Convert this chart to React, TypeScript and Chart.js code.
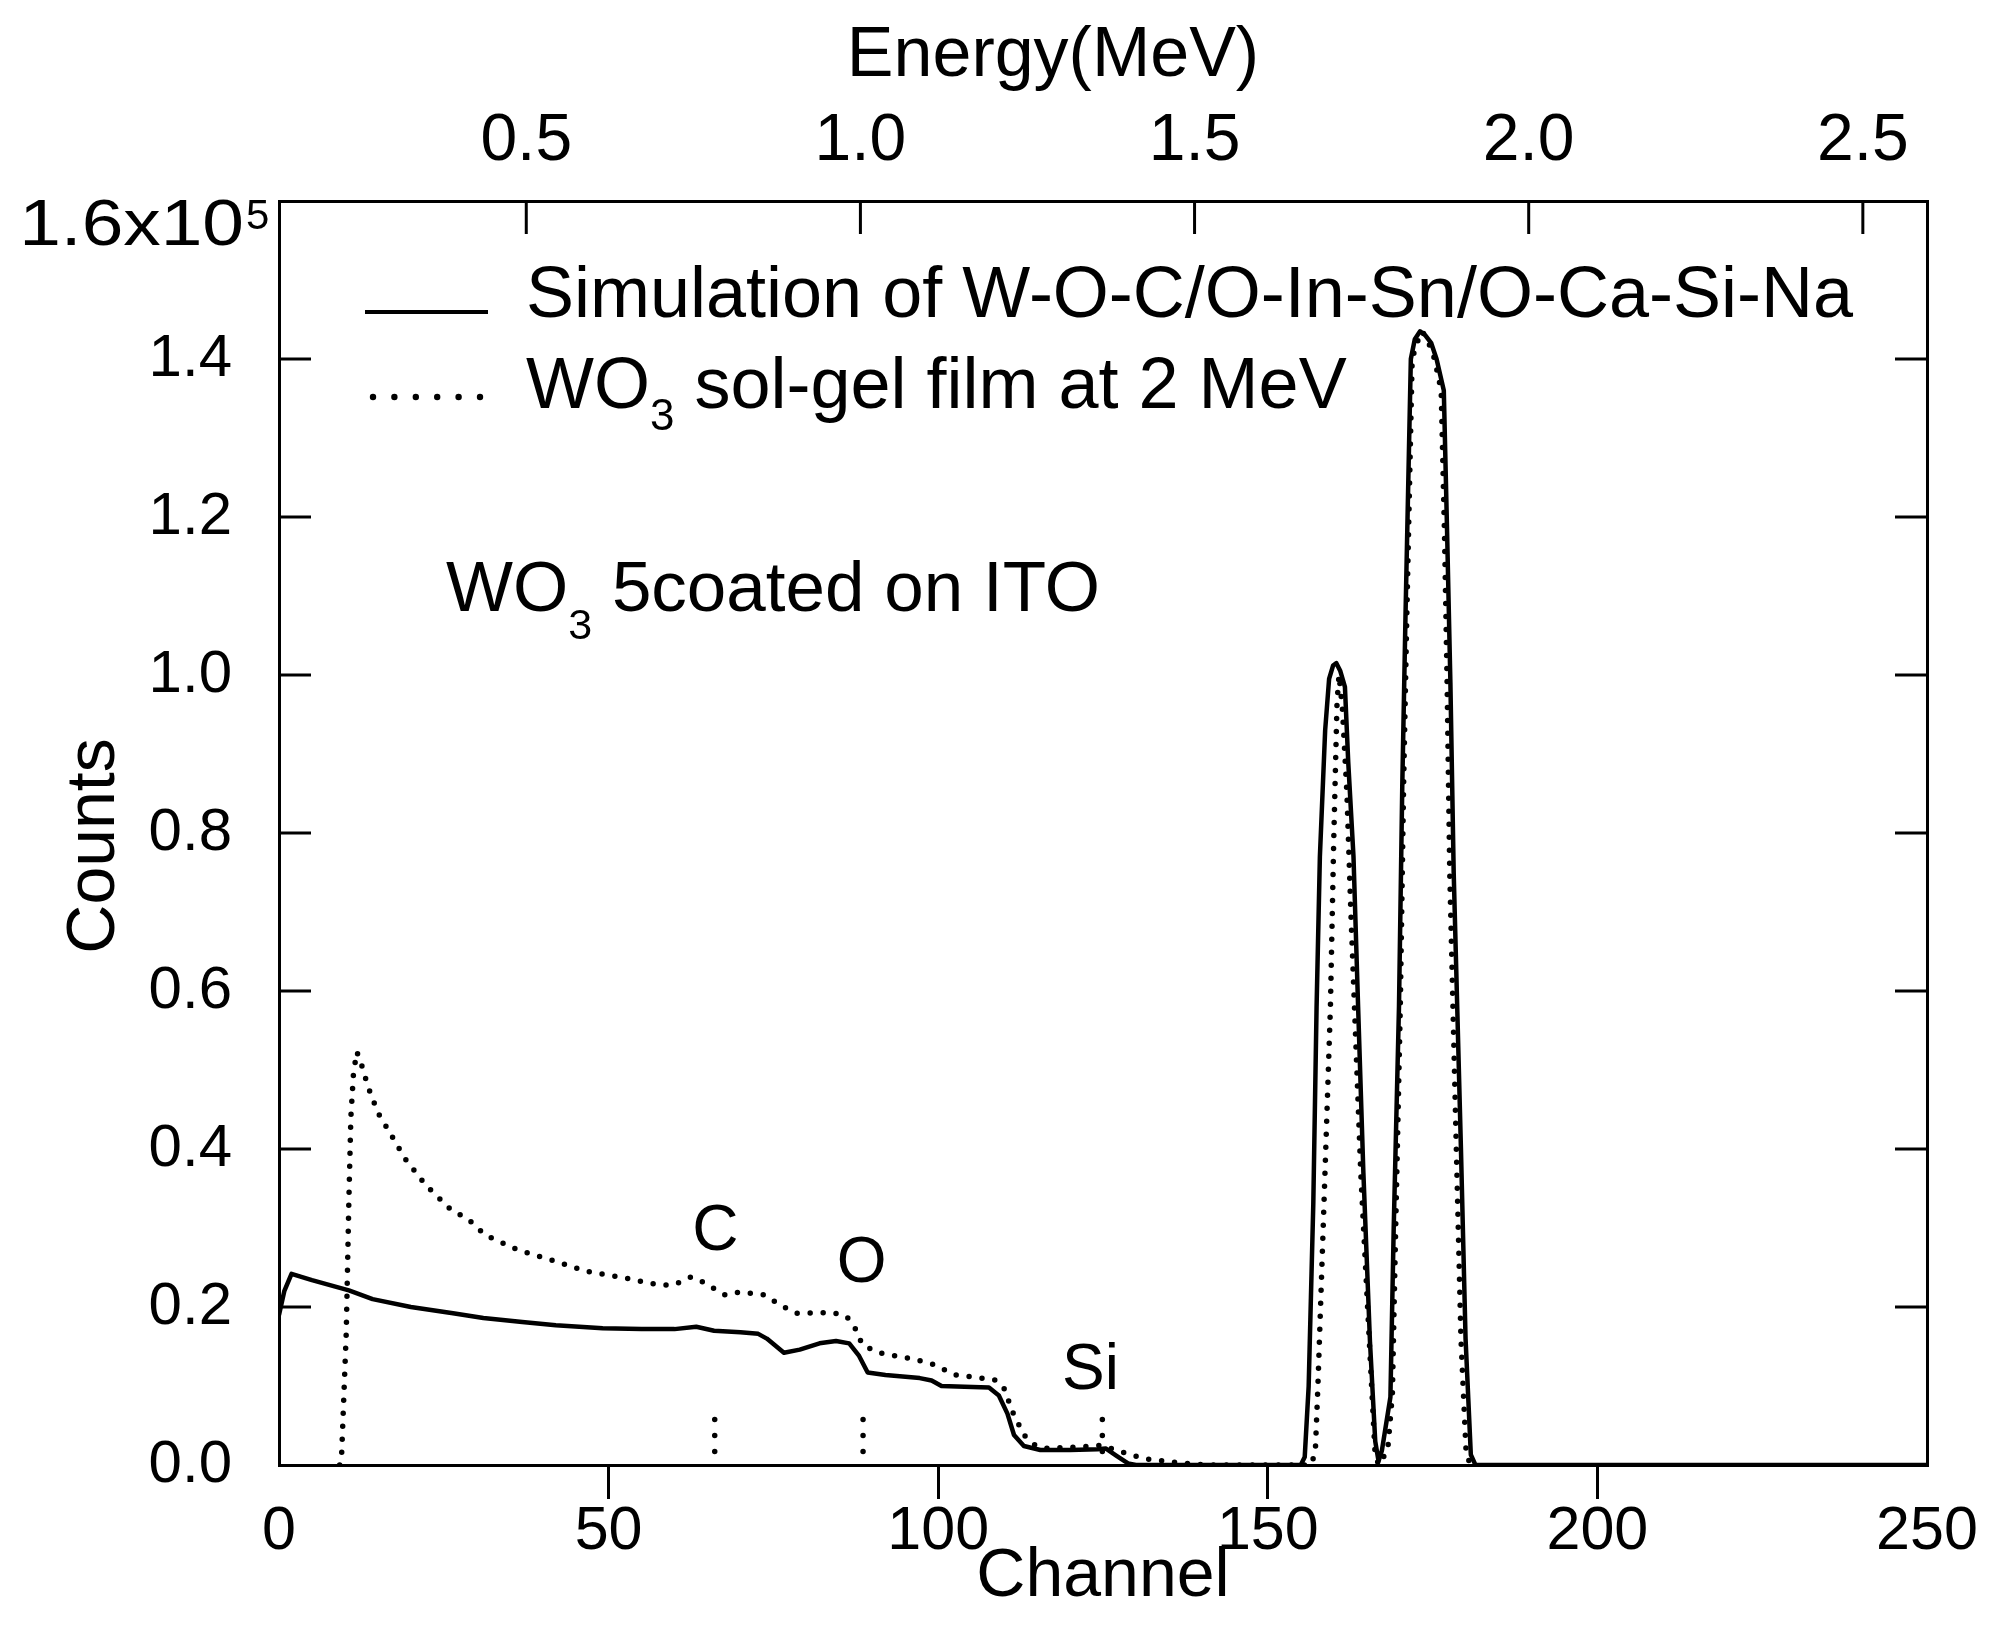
import React, { useEffect, useRef } from 'react';
import { Chart, registerables } from 'chart.js';

Chart.register(...registerables);

const W = 1989;
const H = 1642;
const FONT = '"Liberation Sans", Arial, Helvetica, sans-serif';

// ---- axis ticks ----
const channelTicks = [0, 50, 100, 150, 200, 250];
const countTicks = [0, 0.2, 0.4, 0.6, 0.8, 1.0, 1.2, 1.4, 1.6];
const energyTicks = [0.5, 1.0, 1.5, 2.0, 2.5];
const energyMin = 0.13;
const energyMax = 2.596;

// ---- simulation (solid), counts in units of 1e5 ----
const simChannel = [
  0, 0.8, 1.9, 5, 10.6, 14.2, 20, 26.4, 31, 36.9, 42, 49.1, 55, 60, 63.3, 66, 70, 72.7, 74, 76.6,
  79, 82, 84.5, 86.5, 88, 89.3, 92, 97.2, 99, 100.5, 104, 107.7, 109.2, 110.5, 111.5, 113, 115.5,
  120, 124.2, 125.4, 127, 128.8, 130, 155, 155.6, 156.2, 156.9, 157.4, 157.9, 158.7, 159.3, 159.9,
  160.4, 161.0, 161.7, 162.2, 163.0, 163.7, 164.5, 165.5, 166.3, 166.8, 167.3, 168.6, 169.1, 169.9,
  170.4, 170.9, 171.4, 171.7, 172.3, 173.1, 173.9, 174.8, 175.6, 176.7, 177.2, 177.7, 178.2, 179.3,
  180.0, 180.8, 181.5, 250,
];
const simCounts = [
  0.19, 0.22, 0.242, 0.234, 0.221, 0.21, 0.2, 0.192, 0.186, 0.181, 0.177, 0.173, 0.172, 0.172, 0.175,
  0.17, 0.168, 0.166, 0.16, 0.142, 0.146, 0.154, 0.157, 0.154, 0.138, 0.117, 0.114, 0.11, 0.107, 0.1,
  0.099, 0.098, 0.088, 0.065, 0.038, 0.024, 0.019, 0.019, 0.02, 0.021, 0.012, 0.002, 0, 0, 0.01, 0.1,
  0.33, 0.58, 0.77, 0.93, 0.995, 1.012, 1.015, 1.005, 0.985, 0.89, 0.77, 0.58, 0.37, 0.156, 0.03,
  0.005, 0.018, 0.086, 0.3, 0.58, 0.86, 1.08, 1.28, 1.4, 1.425, 1.435, 1.43, 1.42, 1.4, 1.36, 1.18,
  0.99, 0.75, 0.4, 0.16, 0.013, 0, 0,
];

// ---- measured WO3 sol-gel film (dotted) ----
const expChannel = [
  9.2, 9.5, 10.2, 10.6, 10.9, 11.3, 11.8, 12.4, 13.5, 15.0, 17.0, 19.1, 22.3, 26.1, 28.7, 31.3, 36.3,
  41.5, 46.7, 52.9, 57.5, 59.9, 62.5, 64.2, 67.7, 70.0, 73.8, 75.9, 78.5, 84.0, 86.1, 87.3, 88.5, 91.0,
  96.3, 99.4, 101.6, 102.6, 108.5, 109.9, 111.4, 113.0, 114.5, 116.0, 121.9, 124.8, 127.7, 131.2,
  135.3, 139, 141, 156.5, 157.2, 157.6, 158.4, 159.5, 160.0, 160.5, 160.8, 161.3, 162.0, 162.6, 164.1,
  165.5, 166.3, 166.9, 168.2, 168.9, 169.4, 170.1, 170.6, 171.1, 171.6, 171.9, 172.6, 173.4, 174.2,
  175.3, 176.3, 176.8, 177.2, 177.6, 178.6, 179.3, 180.1, 180.8,
];
const expCounts = [
  0, 0.013, 0.167, 0.335, 0.44, 0.496, 0.523, 0.51, 0.479, 0.446, 0.418, 0.388, 0.354, 0.323, 0.311,
  0.291, 0.272, 0.259, 0.245, 0.236, 0.228, 0.228, 0.238, 0.232, 0.215, 0.219, 0.215, 0.203, 0.192,
  0.193, 0.188, 0.175, 0.152, 0.142, 0.134, 0.127, 0.118, 0.114, 0.108, 0.099, 0.065, 0.038, 0.026,
  0.021, 0.023, 0.025, 0.017, 0.008, 0.004, 0.001, 0, 0, 0.015, 0.1, 0.3, 0.58, 0.79, 0.965, 1.0, 0.96,
  0.85, 0.7, 0.37, 0.14, 0.01, 0, 0.02, 0.09, 0.3, 0.58, 0.86, 1.08, 1.28, 1.4, 1.42, 1.435, 1.425,
  1.4, 1.36, 1.18, 0.99, 0.75, 0.4, 0.16, 0.013, 0,
];

// ---- element edge markers (short dotted verticals) ----
const markerChannel = [66.1, 88.6, 124.9];
const markerLow = 0.017;
const markerHigh = 0.061;
const markerLabels = ['C', 'O', 'Si'];

// ---- texts ----
const legendSim = 'Simulation of W-O-C/O-In-Sn/O-Ca-Si-Na';
const legendExpMain = 'WO';
const legendExpSub = '3';
const legendExpRest = ' sol-gel film at 2 MeV';
const sampleMain = 'WO';
const sampleSub = '3';
const sampleRest = ' 5coated on ITO';

// layout (pixel) constants
const PLOT_LEFT = 279;
const PLOT_RIGHT = 1927;
const PLOT_TOP = 201;
const PLOT_BOTTOM = 1465;

function drawRuns(ctx: CanvasRenderingContext2D, x: number, y: number, runs: { t: string; size: number; dy: number }[]) {
  let cx = x;
  for (const r of runs) {
    ctx.font = `${r.size}px ${FONT}`;
    ctx.fillText(r.t, cx, y + r.dy);
    cx += ctx.measureText(r.t).width;
  }
}

const decorPlugin = {
  id: 'decor',
  afterDraw(chart: any) {
    const { ctx, chartArea: a, scales } = chart;
    const y = scales.y;
    const x = scales.x;
    const x2 = scales.x2;
    ctx.save();
    ctx.strokeStyle = '#000';
    ctx.fillStyle = '#000';
    ctx.lineWidth = 3;
    ctx.lineCap = 'butt';
    const line = (x1: number, y1: number, xx: number, yy: number) => {
      ctx.beginPath();
      ctx.moveTo(x1, y1);
      ctx.lineTo(xx, yy);
      ctx.stroke();
    };
    // inward ticks on left and right
    countTicks.forEach((v) => {
      if (v <= 0 || v >= 1.6) return;
      const py = y.getPixelForValue(v);
      line(a.left, py, a.left + 32, py);
      line(a.right - 32, py, a.right, py);
    });
    // inward ticks on top energy axis
    energyTicks.forEach((e) => {
      const px = x2.getPixelForValue(e);
      line(px, a.top, px, a.top + 33);
    });

    ctx.textBaseline = 'alphabetic';
    // 1.6x10^5 label (wide, as in the scan)
    ctx.save();
    ctx.font = `64px ${FONT}`;
    ctx.translate(244, 245);
    ctx.scale(1.17, 1);
    ctx.textAlign = 'right';
    ctx.fillText('1.6x10', 0, 0);
    ctx.restore();
    ctx.textAlign = 'left';
    ctx.font = `42px ${FONT}`;
    ctx.fillText('5', 246, 229);

    // Energy title
    ctx.textAlign = 'center';
    ctx.font = `70px ${FONT}`;
    ctx.fillText('Energy(MeV)', 1053, 76);

    // Counts title
    ctx.save();
    ctx.translate(95, 846);
    ctx.rotate(-Math.PI / 2);
    ctx.textAlign = 'center';
    ctx.textBaseline = 'middle';
    ctx.font = `68px ${FONT}`;
    ctx.fillText('Counts', 0, 0);
    ctx.restore();

    // legend
    ctx.textAlign = 'left';
    ctx.textBaseline = 'alphabetic';
    ctx.lineWidth = 4;
    line(365, 312, 488, 312);
    for (let i = 0; i < 6; i++) {
      ctx.beginPath();
      ctx.arc(373 + i * 21.4, 397, 3.2, 0, Math.PI * 2);
      ctx.fill();
    }
    drawRuns(ctx, 526, 317, [{ t: legendSim, size: 72, dy: 0 }]);
    drawRuns(ctx, 526, 408, [
      { t: legendExpMain, size: 72, dy: 0 },
      { t: legendExpSub, size: 44, dy: 22 },
      { t: legendExpRest, size: 72, dy: 0 },
    ]);
    drawRuns(ctx, 446, 611, [
      { t: sampleMain, size: 71, dy: 0 },
      { t: sampleSub, size: 43, dy: 28 },
      { t: sampleRest, size: 71, dy: 0 },
    ]);

    // element labels, anchored to data coordinates
    const labelAnchors = [
      { ch: 66.2, v: 0.272 },
      { ch: 88.4, v: 0.232 },
      { ch: 123.1, v: 0.096 },
    ];
    ctx.textAlign = 'center';
    ctx.font = `64px ${FONT}`;
    markerLabels.forEach((t, i) => {
      const an = labelAnchors[i];
      ctx.fillText(t, x.getPixelForValue(an.ch), y.getPixelForValue(an.v));
    });
    ctx.restore();
  },
};

export default function App() {
  const ref = useRef<HTMLCanvasElement | null>(null);

  useEffect(() => {
    document.body.style.margin = '0';
    Chart.defaults.font.family = FONT;
    Chart.defaults.color = '#000';
    const canvas = ref.current;
    if (!canvas) return;

    const dotted = {
      borderColor: '#000',
      borderWidth: 5.5,
      borderDash: [0, 13],
      borderCapStyle: 'round' as const,
      pointRadius: 0,
      tension: 0,
      fill: false,
    };

    const datasets: any[] = [
      {
        label: 'Simulation',
        data: simChannel.map((c, i) => ({ x: c, y: simCounts[i] })),
        borderColor: '#000',
        borderWidth: 4.5,
        pointRadius: 0,
        tension: 0,
        fill: false,
        borderJoinStyle: 'round',
      },
      {
        label: 'WO3 film',
        data: expChannel.map((c, i) => ({ x: c, y: expCounts[i] })),
        ...dotted,
      },
      ...markerChannel.map((c, i) => ({
        label: 'marker ' + markerLabels[i],
        data: [
          { x: c, y: markerLow },
          { x: c, y: markerHigh },
        ],
        ...dotted,
        borderDash: [0, 16],
      })),
    ];

    const chart = new Chart(canvas, {
      type: 'line',
      data: { datasets },
      plugins: [decorPlugin],
      options: {
        responsive: false,
        devicePixelRatio: 1,
        animation: false,
        layout: { padding: 0 },
        plugins: { legend: { display: false }, tooltip: { enabled: false } },
        scales: {
          x: {
            type: 'linear',
            position: 'bottom',
            min: 0,
            max: 250,
            afterBuildTicks: (s: any) => {
              s.ticks = channelTicks.map((v) => ({ value: v }));
            },
            afterFit: (s: any) => {
              s.height = H - PLOT_BOTTOM;
            },
            ticks: {
              font: { size: 61 },
              color: '#000',
              padding: -3,
              maxRotation: 0,
              autoSkip: false,
              callback: (v: any) => String(v),
            },
            grid: {
              drawOnChartArea: false,
              drawTicks: true,
              tickLength: 34,
              tickWidth: 3,
              lineWidth: 3,
              tickColor: (c: any) =>
                c.tick && (c.tick.value === 0 || c.tick.value === 250) ? 'rgba(0,0,0,0)' : '#000',
              color: '#000',
            },
            border: { display: true, color: '#000', width: 3 },
            title: {
              display: true,
              text: 'Channel',
              font: { size: 68 },
              color: '#000',
              padding: { top: 0, bottom: 24 },
            },
          },
          x2: {
            type: 'linear',
            position: 'top',
            min: energyMin,
            max: energyMax,
            afterBuildTicks: (s: any) => {
              s.ticks = energyTicks.map((v) => ({ value: v }));
            },
            afterFit: (s: any) => {
              s.height = PLOT_TOP;
            },
            ticks: {
              font: { size: 66 },
              color: '#000',
              padding: 20,
              maxRotation: 0,
              autoSkip: false,
              callback: (v: any) => Number(v).toFixed(1),
            },
            grid: { drawOnChartArea: false, drawTicks: false },
            border: { display: true, color: '#000', width: 3 },
          },
          y: {
            type: 'linear',
            position: 'left',
            min: 0,
            max: 1.6,
            afterBuildTicks: (s: any) => {
              s.ticks = countTicks.map((v) => ({ value: v }));
            },
            afterFit: (s: any) => {
              s.width = PLOT_LEFT;
            },
            ticks: {
              font: { size: 60 },
              color: '#000',
              padding: 47,
              autoSkip: false,
              callback: (v: any) => (Number(v) >= 1.59 ? '' : Number(v).toFixed(1)),
            },
            grid: { drawOnChartArea: false, drawTicks: false },
            border: { display: true, color: '#000', width: 3 },
          },
          y2: {
            type: 'linear',
            position: 'right',
            min: 0,
            max: 1.6,
            afterFit: (s: any) => {
              s.width = W - PLOT_RIGHT;
            },
            ticks: { display: false },
            grid: { drawOnChartArea: false, drawTicks: false },
            border: { display: true, color: '#000', width: 3 },
          },
        },
      } as any,
    });

    return () => chart.destroy();
  }, []);

  return (
    <div style={{ position: 'relative', width: W, height: H, background: '#fff' }}>
      <canvas ref={ref} width={W} height={H} style={{ display: 'block' }} />
    </div>
  );
}
